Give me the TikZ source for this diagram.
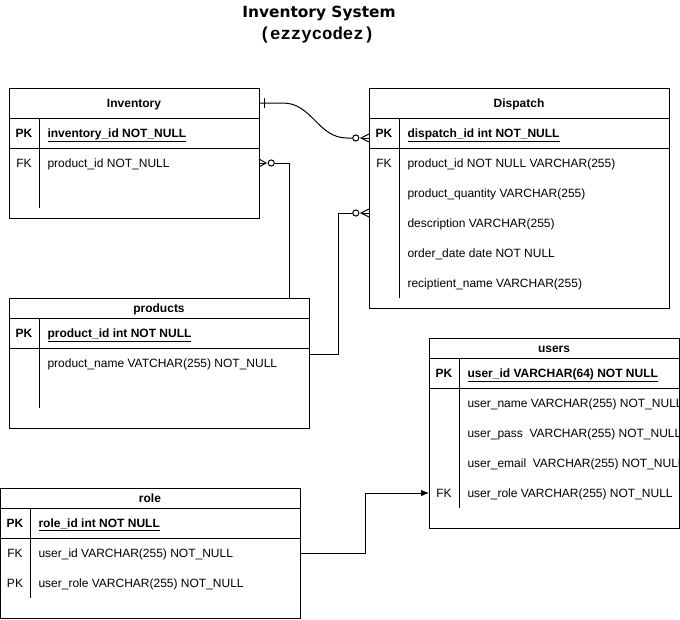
\documentclass[tikz,border=0pt]{standalone}
\usepackage{fontspec}
\usepackage{graphicx}
\setmainfont{Liberation Sans}
\newfontfamily\titlefont{DejaVu Sans}
\newfontfamily\subfont{Liberation Mono}
\usetikzlibrary{arrows.meta}
\begin{document}
\begin{tikzpicture}[x=0.75pt,y=-0.75pt,line width=0.75pt,
  tbl/.style={draw,rectangle,inner sep=0pt,anchor=north west},
  txt/.style={anchor=base west,inner sep=0pt,font=\fontsize{9pt}{11pt}\selectfont},
  keycol/.style={anchor=base,inner sep=0pt,font=\fontsize{9pt}{11pt}\selectfont},
  pkcol/.style={keycol,font=\fontsize{9pt}{11pt}\selectfont\bfseries},
  pktxt/.style={txt,font=\fontsize{9pt}{11pt}\selectfont\bfseries},
  hdr/.style={anchor=base,inner sep=0pt,font=\fontsize{9pt}{11pt}\selectfont\bfseries},
  conn/.style={draw,line width=0.75pt},
  zerocirc/.style={draw,circle,inner sep=0pt,minimum size=4.6pt,fill=white}]
\useasboundingbox (0,0) rectangle (680,619);
\clip (0,0) rectangle (680,619);
\fill[white] (0,0) rectangle (680,619);

% title
\node[inner sep=0pt] (title) at (319,13) {\resizebox{115pt}{!}{\titlefont\bfseries Inventory System}};
\node[inner sep=0pt,font=\fontsize{13pt}{15pt}\subfont\bfseries] (subtitle) at (317,35) {(ezzycodez)};

% ---------- Inventory ----------
\node[tbl,minimum width=187.5pt,minimum height=97.5pt] (inv) at (9,88) {};
\draw (9,118) -- (259,118);
\draw (9,148) -- (259,148);
\draw (39,118) -- (39,208);
\node[hdr] (invh) at (134,107.3) {Inventory};
\node[pkcol] (invk1) at (24,137.3) {PK};
\node[pktxt] (invr1) at (47,137.3) {\underline{inventory\_id NOT\_NULL}};
\node[keycol] (invk2) at (24,167.3) {FK};
\node[txt] (invr2) at (47,167.3) {product\_id NOT\_NULL};

% ---------- Dispatch ----------
\node[tbl,minimum width=225pt,minimum height=165pt] (dis) at (369,88) {};
\draw (369,118) -- (669,118);
\draw (369,148) -- (669,148);
\draw (399,118) -- (399,298);
\node[hdr] (dish) at (519,107.3) {Dispatch};
\node[pkcol] (disk1) at (384,137.3) {PK};
\node[pktxt] (disr1) at (407,137.3) {\underline{dispatch\_id int NOT\_NULL}};
\node[keycol] (disk2) at (384,167.3) {FK};
\node[txt] (disr2) at (407,167.3) {product\_id NOT NULL VARCHAR(255)};
\node[txt] (disr3) at (407,197.3) {product\_quantity VARCHAR(255)};
\node[txt] (disr4) at (407,227.3) {description VARCHAR(255)};
\node[txt] (disr5) at (407,257.3) {order\_date date NOT NULL};
\node[txt] (disr6) at (407,287.3) {reciptient\_name VARCHAR(255)};

% ---------- products ----------
\node[tbl,minimum width=225pt,minimum height=97.5pt] (pro) at (9,298) {};
\draw (9,318) -- (309,318);
\draw (9,348) -- (309,348);
\draw (39,318) -- (39,408);
\node[hdr] (proh) at (159,312.3) {products};
\node[pkcol] (prok1) at (24,337.3) {PK};
\node[pktxt] (pror1) at (47,337.3) {\underline{product\_id int NOT NULL}};
\node[txt] (pror2) at (47,367.3) {product\_name VATCHAR(255) NOT\_NULL};

% ---------- users ----------
\node[tbl,minimum width=187.5pt,minimum height=142.5pt] (usr) at (429,338) {};
\draw (429,358) -- (679,358);
\draw (429,388) -- (679,388);
\draw (459,358) -- (459,508);
\node[hdr] (usrh) at (554,352.3) {users};
\node[pkcol] (usrk1) at (444,377.3) {PK};
\node[pktxt] (usrr1) at (467,377.3) {\underline{user\_id VARCHAR(64) NOT NULL}};
\node[txt] (usrr2) at (467,407.3) {user\_name VARCHAR(255) NOT\_NULL};
\node[txt] (usrr3) at (467,437.3) {user\_pass\ \ VARCHAR(255) NOT\_NULL};
\node[txt] (usrr4) at (467,467.3) {user\_email\ \ VARCHAR(255) NOT\_NULL};
\node[keycol] (usrk5) at (444,497.3) {FK};
\node[txt] (usrr5) at (467,497.3) {user\_role VARCHAR(255) NOT\_NULL};

% ---------- role ----------
\node[tbl,minimum width=225pt,minimum height=97.5pt] (rol) at (0,488) {};
\draw (0,508) -- (300,508);
\draw (0,538) -- (300,538);
\draw (30,508) -- (30,598);
\node[hdr] (rolh) at (150,502.3) {role};
\node[pkcol] (rolk1) at (15,527.3) {PK};
\node[pktxt] (rolr1) at (38,527.3) {\underline{role\_id int NOT NULL}};
\node[keycol] (rolk2) at (15,557.3) {FK};
\node[txt] (rolr2) at (38,557.3) {user\_id VARCHAR(255) NOT\_NULL};
\node[keycol] (rolk3) at (15,587.3) {PK};
\node[txt] (rolr3) at (38,587.3) {user\_role VARCHAR(255) NOT\_NULL};

% ---------- connector end points ----------
\coordinate (invOne) at (259,103);
\coordinate (disPK) at (369,138);
\coordinate (invFK) at (259,163);
\coordinate (proTop) at (289,298);
\coordinate (proRow) at (309,354);
\coordinate (disDesc) at (369,213);
\coordinate (rolFK) at (309,553);
\coordinate (rolR) at (300,553);
\coordinate (usrFK) at (429,493);

% 1: Inventory (one) -> Dispatch PK (zero or many)
\draw (invOne) -- (283,103) .. controls (312,103) and (318,138) .. (347,138) -- (353,138);
\draw (264,98) -- (264,108);
\draw (disPK) -- (361,138);
\draw (369,134) -- (361,138) -- (369,142);
\node[zerocirc] (c1) at (355.8,138) {};

% 2: Inventory FK (zero or many) -> products
\draw (invFK) -- (266,163);
\draw (259,159) -- (266,163) -- (259,167);
\node[zerocirc] (c2) at (271.2,163) {};
\draw (c2.east) -- (289,163) -- (proTop);

% 3: products -> Dispatch (zero or many)
\draw (proRow) -- (338,354) -- (338,213) -- (352.8,213);
\draw (disDesc) -- (361,213);
\draw (369,209) -- (361,213) -- (369,217);
\node[zerocirc] (c3) at (355.8,213) {};

% 4: role -> users
\draw[-{Latex[length=6pt,width=5pt]}] (rolR) -- (365,553) -- (365,493) -- (usrFK);
\end{tikzpicture}
\end{document}
